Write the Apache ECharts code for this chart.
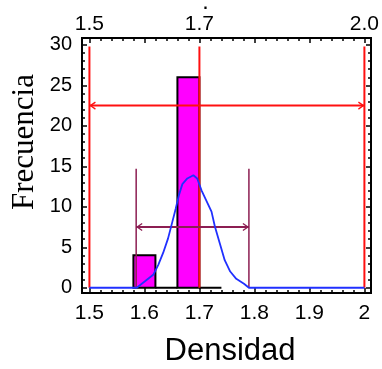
<!DOCTYPE html>
<html><head><meta charset="utf-8">
<script src="https://cdn.jsdelivr.net/npm/echarts@6/dist/echarts.min.js"></script>
<style>html,body{margin:0;padding:0;background:#fff}#c{width:382px;height:369px}</style>
</head><body><div id="c"></div>
<script>
// Histogram classes
const binStarts = [1.58, 1.62, 1.66, 1.70];
const binEnds   = [1.62, 1.66, 1.70, 1.74];
const binFreqs  = [4, 0, 26, 0];
// Smoothed density curve (scaled to frequency)
const densX = [1.5, 1.586, 1.601, 1.616, 1.625, 1.634, 1.643, 1.651, 1.657, 1.663, 1.669, 1.678, 1.689, 1.696, 1.704, 1.713, 1.722, 1.728, 1.737, 1.746, 1.756, 1.767, 1.781, 1.790, 2.0];
const densY = [0, 0, 0.8, 1.6, 2.8, 4.3, 6.1, 8.2, 9.8, 11.5, 12.8, 13.5, 13.9, 13.5, 12.0, 10.7, 9.4, 7.6, 5.5, 3.4, 2.0, 1.1, 0.5, 0, 0];
// Specification limits (red) and process spread (purple)
const specLimits = [1.5, 1.7, 2.0];
const specTop = 29.8;
const specArrowY = 22.5;
const sigmaLimits = [1.585, 1.79];
const sigmaTop = 14.7;
const sigmaArrowY = 7.5;
// Axis ticks & labels
const xTickValues = [1.5, 1.6, 1.7, 1.8, 1.9, 2.0];
const xTickLabels = ["1.5", "1.6", "1.7", "1.8", "1.9", "2"];
const topTickValues = [1.5, 1.7, 2.0];
const topTickLabels = ["1.5", "{d|·}\n1.7", "2.0"];
const xMinorValues = [1.52,1.54,1.56,1.58,1.62,1.64,1.66,1.68,1.72,1.74,1.76,1.78,1.82,1.84,1.86,1.88,1.92,1.94,1.96,1.98];
const yTickValues = [0, 5, 10, 15, 20, 25, 30];
const yTickLabels = ["0", "5", "10", "15", "20", "25", "30"];
const yMinorValues = [1,2,3,4,6,7,8,9,11,12,13,14,16,17,18,19,21,22,23,24,26,27,28,29];

const X_MIN = 1.4865, X_MAX = 2.012, Y_MIN = -0.65, Y_MAX = 30.85;
const RED = '#ff1010', PURPLE = '#8c1e52', BLUE = '#2030ff', MAGENTA = '#ff00ff';
const FONT = 'Liberation Sans, Arial, sans-serif';

function lookup(vals, labels) {
  return function (v) {
    let best = 0;
    for (let i = 0; i < vals.length; i++) if (Math.abs(vals[i] - v) < Math.abs(vals[best] - v)) best = i;
    return labels[best];
  };
}
function xAxisDef(pos, ticks, len, labels) {
  return {
    type: 'value', position: pos, min: X_MIN, max: X_MAX,
    axisLine: { show: true, onZero: false, lineStyle: { color: '#000', width: 2 } },
    axisTick: { show: true, inside: true, length: len, customValues: ticks, lineStyle: { color: '#000', width: 1.5 } },
    axisLabel: labels ? { show: true, customValues: labels.vals, formatter: lookup(labels.vals, labels.text),
      color: '#000', fontSize: 21, fontFamily: FONT, margin: labels.margin,
      rich: { d: { fontSize: 16, fontWeight: 'bold', fontFamily: FONT, color: '#000', lineHeight: 10, padding: [0, 0, 0, 13] } } } : { show: false },
    splitLine: { show: false }
  };
}
function yAxisDef(pos, ticks, len, labels) {
  return {
    type: 'value', position: pos, min: Y_MIN, max: Y_MAX,
    axisLine: { show: true, onZero: false, lineStyle: { color: '#000', width: 2 } },
    axisTick: { show: true, inside: true, length: len, customValues: ticks, lineStyle: { color: '#000', width: 1.5 } },
    axisLabel: labels ? { show: true, customValues: labels.vals, formatter: lookup(labels.vals, labels.text),
      color: '#000', fontSize: 20, fontFamily: FONT, margin: 10 } : { show: false },
    splitLine: { show: false }
  };
}

function vline(color, width) {
  return function (params, api) {
    const p0 = api.coord([api.value(0), api.value(1)]);
    const p1 = api.coord([api.value(0), api.value(2)]);
    return { type: 'line', shape: { x1: p0[0], y1: p0[1], x2: p1[0], y2: p1[1] }, style: { stroke: color, lineWidth: width } };
  };
}
function arrow(color, width) {
  return function (params, api) {
    const a = api.coord([api.value(0), api.value(2)]);
    const b = api.coord([api.value(1), api.value(2)]);
    const L = 6, H = 3.5;
    return { type: 'group', children: [
      { type: 'line', shape: { x1: a[0], y1: a[1], x2: b[0], y2: b[1] }, style: { stroke: color, lineWidth: width } },
      { type: 'polyline', shape: { points: [[a[0] + L, a[1] - H], [a[0] + 1, a[1]], [a[0] + L, a[1] + H]] }, style: { stroke: color, lineWidth: 1.3, fill: null } },
      { type: 'polyline', shape: { points: [[b[0] - L, b[1] - H], [b[0] - 1, b[1]], [b[0] - L, b[1] + H]] }, style: { stroke: color, lineWidth: 1.3, fill: null } }
    ] };
  };
}

const chart = echarts.init(document.getElementById('c'), null, { renderer: 'canvas' });
chart.setOption({
  animation: false,
  backgroundColor: '#fff',
  grid: { left: 82, right: 3, top: 38, bottom: 76, containLabel: false },
  xAxis: [
    xAxisDef('bottom', xTickValues, 5, { vals: xTickValues, text: xTickLabels, margin: 10 }),
    xAxisDef('bottom', xMinorValues, 3, null),
    xAxisDef('top', xTickValues, 5, { vals: topTickValues, text: topTickLabels, margin: 3 }),
    xAxisDef('top', xMinorValues, 3, null)
  ],
  yAxis: [
    yAxisDef('left', yTickValues, 5, { vals: yTickValues, text: yTickLabels }),
    yAxisDef('left', yMinorValues, 3, null),
    yAxisDef('right', yTickValues, 5, null),
    yAxisDef('right', yMinorValues, 3, null)
  ],
  graphic: [
    { type: 'text', x: 25, y: 142, rotation: Math.PI / 2, style: { text: 'Frecuencia', font: '31px "Liberation Serif", serif', fill: '#000', align: 'center', verticalAlign: 'middle' } },
    { type: 'text', x: 230, y: 351, style: { text: 'Densidad', font: '31px "Liberation Sans", Arial, sans-serif', fill: '#000', align: 'center', verticalAlign: 'middle' } }
  ],
  series: [
    {
      type: 'custom', xAxisIndex: 0, yAxisIndex: 0, z: 2,
      data: binStarts.map((s, i) => [s, binEnds[i], binFreqs[i]]),
      renderItem: function (params, api) {
        const p0 = api.coord([api.value(0), 0]);
        const p1 = api.coord([api.value(1), api.value(2)]);
        return { type: 'rect', shape: { x: p0[0], y: p1[1], width: p1[0] - p0[0], height: p0[1] - p1[1] },
          style: { fill: MAGENTA, stroke: '#000', lineWidth: 2 } };
      }
    },
    {
      type: 'custom', xAxisIndex: 0, yAxisIndex: 0, z: 3,
      data: specLimits.map(x => [x, 0, specTop]),
      renderItem: vline(RED, 2)
    },
    {
      type: 'custom', xAxisIndex: 0, yAxisIndex: 0, z: 3,
      data: [[specLimits[0], specLimits[2], specArrowY]],
      renderItem: arrow(RED, 2)
    },
    {
      type: 'custom', xAxisIndex: 0, yAxisIndex: 0, z: 3,
      data: sigmaLimits.map(x => [x, 0, sigmaTop]),
      renderItem: vline(PURPLE, 1.5)
    },
    {
      type: 'custom', xAxisIndex: 0, yAxisIndex: 0, z: 3,
      data: [[sigmaLimits[0], sigmaLimits[1], sigmaArrowY]],
      renderItem: arrow(PURPLE, 2)
    },
    {
      type: 'line', xAxisIndex: 0, yAxisIndex: 0, z: 4,
      data: densX.map((x, i) => [x, densY[i]]),
      showSymbol: false, symbol: 'none', smooth: false,
      lineStyle: { color: BLUE, width: 1.8 }
    }
  ]
});
</script>
</body></html>
